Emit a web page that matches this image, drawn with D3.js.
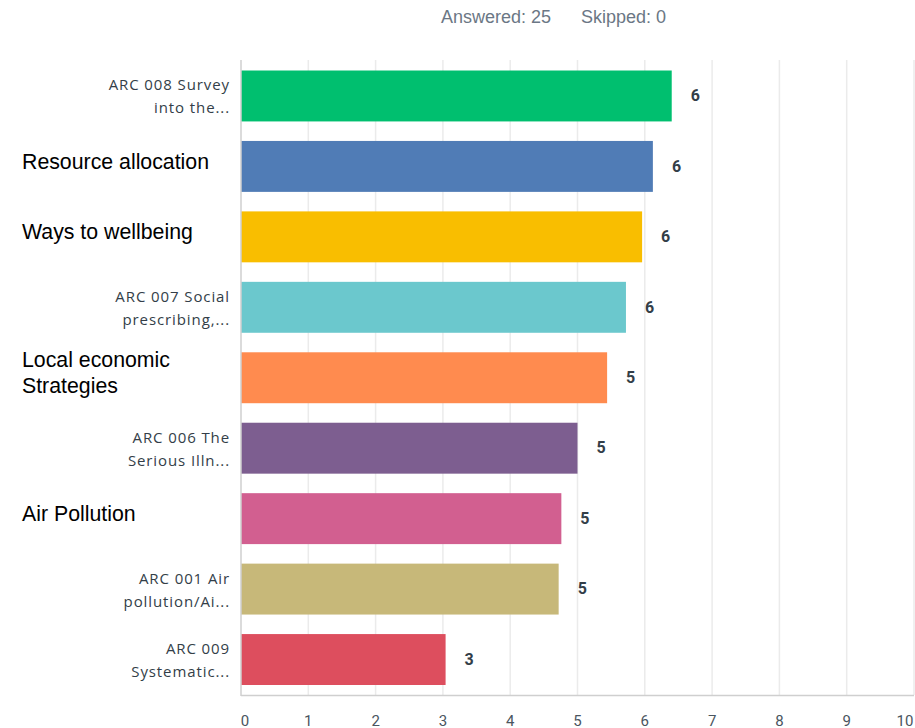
<!DOCTYPE html>
<html>
<head>
<meta charset="utf-8">
<script src="https://cdn.jsdelivr.net/npm/d3@7"></script>
<style>
  body { margin: 0; background: #fff; }
  svg { display: block; }
</style>
</head>
<body>
<div id="chart"></div>
<script>
var width = 915;
var height = 728;

// answers, top to bottom
var categories = [
    "ARC 008 Survey\ninto the...",
    "Resource allocation",
    "Ways to wellbeing",
    "ARC 007 Social\nprescribing,...",
    "Local economic\nStrategies",
    "ARC 006 The\nSerious Illn...",
    "Air Pollution",
    "ARC 001 Air\npollution/Ai...",
    "ARC 009\nSystematic..."
];
var scores = [6.40, 6.12, 5.96, 5.72, 5.44, 5.00, 4.76, 4.72, 3.04];
var colors = ["#00bf6f", "#507cb6", "#f9be00", "#6bc8cd", "#ff8b4f",
              "#7d5e90", "#d25f90", "#c7b879", "#dd4e5e"];
var xTicks = [0, 1, 2, 3, 4, 5, 6, 7, 8, 9, 10];
var answered = 25;
var skipped = 0;

var svg = d3.select("#chart")
            .append("svg")
            .attr("width", width)
            .attr("height", height);

var x = d3.scaleLinear()
    .domain([0, 10])
    .range([241, 914]);

var y = d3.scaleBand()
    .domain(d3.range(categories.length))
    .range([60.5, 695])
    .paddingInner(0.277)
    .paddingOuter(0.142);

// header
svg.append("text")
    .attr("x", 441)
    .attr("y", 23)
    .attr("font-family", "'Liberation Sans', Arial, sans-serif")
    .attr("font-size", 18)
    .attr("fill", "#6b7785")
    .text("Answered: " + answered);
svg.append("text")
    .attr("x", 581)
    .attr("y", 23)
    .attr("font-family", "'Liberation Sans', Arial, sans-serif")
    .attr("font-size", 18)
    .attr("fill", "#6b7785")
    .text("Skipped: " + skipped);

// grid
svg.append("g")
    .selectAll("line")
    .data(xTicks.slice(1))
    .enter()
    .append("line")
    .attr("x1", function(d) { return x(d); })
    .attr("x2", function(d) { return x(d); })
    .attr("y1", 60)
    .attr("y2", 695)
    .attr("stroke", "#ebebeb")
    .attr("stroke-width", 1.5);

// bars
svg.append("g")
    .selectAll("rect")
    .data(scores)
    .enter()
    .append("rect")
    .attr("x", x(0))
    .attr("y", function(d, i) { return y(i); })
    .attr("width", function(d) { return x(d) - x(0); })
    .attr("height", y.bandwidth())
    .attr("fill", function(d, i) { return colors[i]; });

// value labels
svg.append("g")
    .selectAll("text")
    .data(scores)
    .enter()
    .append("text")
    .attr("x", function(d) { return x(d) + 19; })
    .attr("y", function(d, i) { return y(i) + y.bandwidth() / 2 + 1; })
    .attr("dominant-baseline", "middle")
    .attr("font-family", "Roboto, sans-serif")
    .attr("font-weight", "bold")
    .attr("font-size", 16)
    .attr("fill", "#333e48")
    .text(function(d) { return Math.round(d); });

// axes lines
svg.append("line")
    .attr("x1", x(0)).attr("x2", x(0))
    .attr("y1", 60).attr("y2", 696)
    .attr("stroke", "#cfcfcf")
    .attr("stroke-width", 1.5);
svg.append("line")
    .attr("x1", x(0)).attr("x2", x(10))
    .attr("y1", 695.5).attr("y2", 695.5)
    .attr("stroke", "#cfcfcf")
    .attr("stroke-width", 1.5);

// x tick labels
svg.append("g")
    .selectAll("text")
    .data(xTicks)
    .enter()
    .append("text")
    .attr("x", function(d) { return d === 0 ? x(d) + 4 : (d === 10 ? x(d) - 9 : x(d)); })
    .attr("y", 726)
    .attr("text-anchor", "middle")
    .attr("font-family", "Roboto, sans-serif")
    .attr("font-size", 15)
    .attr("fill", "#4a5560")
    .text(function(d) { return d; });

// category labels
var cat = svg.append("g")
    .selectAll("text")
    .data(categories)
    .enter()
    .append("text")
    .each(function(d, i) {
        var small = /^ARC/.test(d);
        var lines = d.split("\n");
        var lh = small ? 23 : 26;
        var cy = y(i) + y.bandwidth() / 2 + (small ? 2 : -3);
        var t = d3.select(this)
            .attr("text-anchor", small ? "end" : "start")
            .attr("font-family", small ? "'Open Sans', sans-serif" : "'Liberation Sans', Arial, sans-serif")
            .attr("font-size", small ? 15 : 21.3)
            .attr("letter-spacing", small ? 0.9 : 0)
            .attr("fill", small ? "#333e48" : "#000");
        lines.forEach(function(line, k) {
            t.append("tspan")
                .attr("x", small ? 230 : 22)
                .attr("y", cy + (k - (lines.length - 1) / 2) * lh)
                .attr("dominant-baseline", "middle")
                .text(line);
        });
    });
</script>
</body>
</html>
